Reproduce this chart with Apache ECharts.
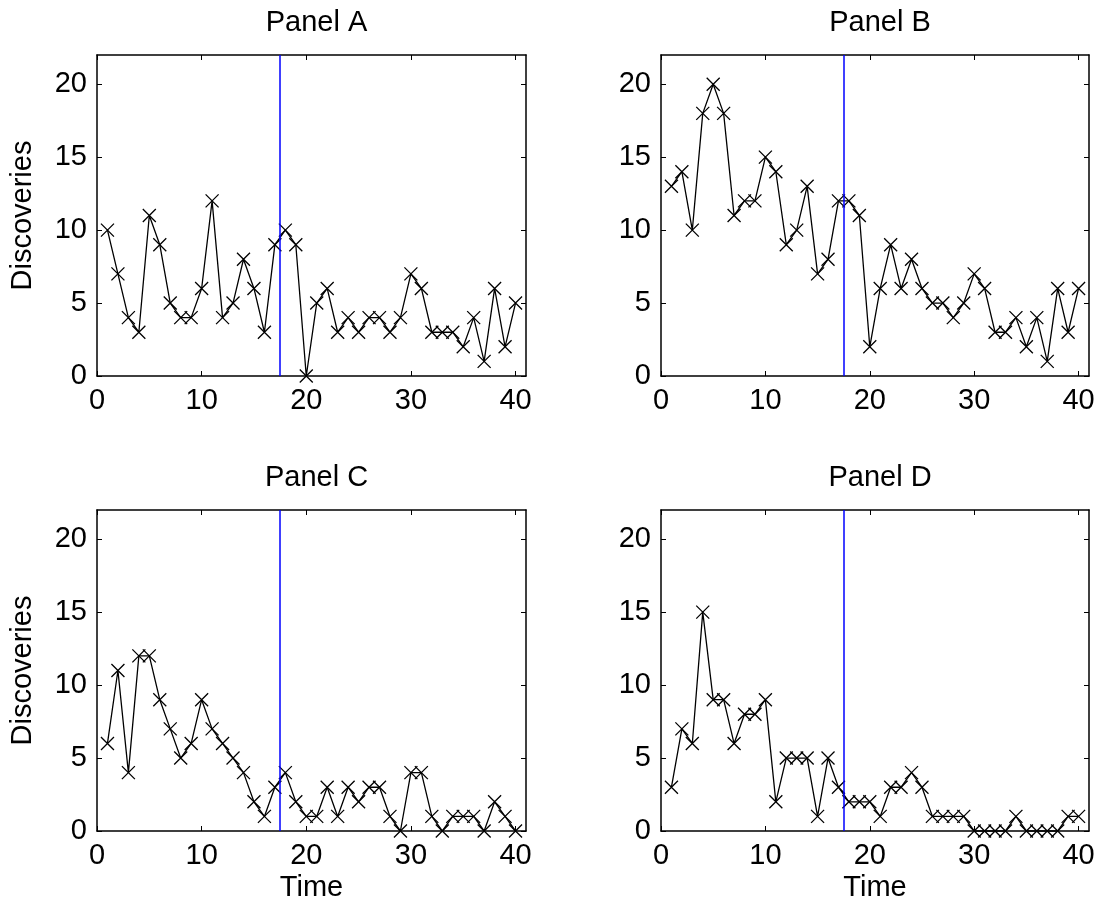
<!DOCTYPE html>
<html>
<head>
<meta charset="utf-8">
<script src="https://cdn.jsdelivr.net/npm/echarts@6/dist/echarts.min.js"></script>
<style>
html, body { margin: 0; padding: 0; background: #fff; }
#main { width: 1102px; height: 910px; }
</style>
</head>
<body>
<div id="main"></div>
<script>
// time steps 1..40
var time = [];
for (var t = 1; t <= 40; t++) time.push(t);

var panelA = [10, 7, 4, 3, 11, 9, 5, 4, 4, 6, 12, 4, 5, 8, 6, 3, 9, 10, 9, 0,
	5, 6, 3, 4, 3, 4, 4, 3, 4, 7, 6, 3, 3, 3, 2, 4, 1, 6, 2, 5];
var panelB = [13, 14, 10, 18, 20, 18, 11, 12, 12, 15, 14, 9, 10, 13, 7, 8, 12, 12, 11, 2,
	6, 9, 6, 8, 6, 5, 5, 4, 5, 7, 6, 3, 3, 4, 2, 4, 1, 6, 3, 6];
var panelC = [6, 11, 4, 12, 12, 9, 7, 5, 6, 9, 7, 6, 5, 4, 2, 1, 3, 4, 2, 1,
	1, 3, 1, 3, 2, 3, 3, 1, 0, 4, 4, 1, 0, 1, 1, 1, 0, 2, 1, 0];
var panelD = [3, 7, 6, 15, 9, 9, 6, 8, 8, 9, 2, 5, 5, 5, 1, 5, 3, 2, 2, 2,
	1, 3, 3, 4, 3, 1, 1, 1, 1, 0, 0, 0, 0, 1, 0, 0, 0, 0, 1, 1];
var titles = ['Panel A', 'Panel B', 'Panel C', 'Panel D'];
var cutoff = 17.5;
var xTicks = [0, 10, 20, 30, 40];
var yTicks = [0, 5, 10, 15, 20];

var font = 'Liberation Sans, Arial, sans-serif';
var fs = 29;
var grids = [
	{ left: 97, top: 55, width: 429, height: 321 },
	{ left: 661, top: 55, width: 428, height: 321 },
	{ left: 97, top: 510, width: 429, height: 321 },
	{ left: 661, top: 510, width: 428, height: 321 }
];

var option = {
	backgroundColor: '#fff',
	animation: false,
	title: [],
	grid: [],
	xAxis: [],
	yAxis: [],
	series: []
};

var axisLine = { show: true, onZero: false, lineStyle: { color: '#000', width: 1.5 } };

[panelA, panelB, panelC, panelD].forEach(function(vals, i) {
	var g = grids[i];
	option.grid.push({ left: g.left, top: g.top, width: g.width, height: g.height });
	option.title.push({
		text: titles[i],
		left: g.left + g.width / 2,
		top: i >= 2 ? 458 : 3,
		textAlign: 'center',
		textStyle: { fontFamily: font, fontSize: fs, fontWeight: 'normal', color: '#000' }
	});

	// bottom + top x axes
	option.xAxis.push({
		type: 'value', gridIndex: i, min: 0, max: 41, position: 'bottom',
		name: i >= 2 ? 'Time' : '', nameLocation: 'middle', nameGap: 42,
		nameTextStyle: { fontFamily: font, fontSize: fs, color: '#000' },
		axisLine: axisLine,
		axisTick: { show: true, inside: true, length: 5, customValues: xTicks, lineStyle: { color: '#000' } },
		axisLabel: { fontFamily: font, fontSize: fs, color: '#000', margin: 10, customValues: xTicks },
		splitLine: { show: false }
	});
	option.xAxis.push({
		type: 'value', gridIndex: i, min: 0, max: 41, position: 'top',
		axisLine: axisLine,
		axisTick: { show: true, inside: true, length: 5, customValues: xTicks, lineStyle: { color: '#000' } },
		axisLabel: { show: false },
		splitLine: { show: false }
	});
	// left + right y axes
	option.yAxis.push({
		type: 'value', gridIndex: i, min: 0, max: 22, position: 'left',
		name: i % 2 === 0 ? 'Discoveries' : '', nameLocation: 'middle', nameGap: 60,
		nameTextStyle: { fontFamily: font, fontSize: fs, color: '#000' },
		axisLine: axisLine,
		axisTick: { show: true, inside: true, length: 5, customValues: yTicks, lineStyle: { color: '#000' } },
		axisLabel: { fontFamily: font, fontSize: fs, color: '#000', margin: 10, customValues: yTicks },
		splitLine: { show: false }
	});
	option.yAxis.push({
		type: 'value', gridIndex: i, min: 0, max: 22, position: 'right',
		axisLine: axisLine,
		axisTick: { show: true, inside: true, length: 5, customValues: yTicks, lineStyle: { color: '#000' } },
		axisLabel: { show: false },
		splitLine: { show: false }
	});

	var pts = time.map(function(t, k) { return [t, vals[k]]; });
	option.series.push({
		type: 'line',
		xAxisIndex: i * 2,
		yAxisIndex: i * 2,
		data: pts,
		symbol: 'path://M0,0L10,10M10,0L0,10',
		symbolSize: 13,
		showAllSymbol: true,
		clip: false,
		z: 3,
		lineStyle: { color: '#000', width: 1.3 },
		itemStyle: { color: 'none', borderColor: '#000', borderWidth: 1.3 },
		markLine: {
			silent: true,
			symbol: ['none', 'none'],
			label: { show: false },
			lineStyle: { color: '#0000ff', width: 1.5, type: 'solid' },
			data: [{ xAxis: cutoff }]
		}
	});
});

var myChart = echarts.init(document.getElementById('main'));
myChart.setOption(option);
</script>
</body>
</html>
